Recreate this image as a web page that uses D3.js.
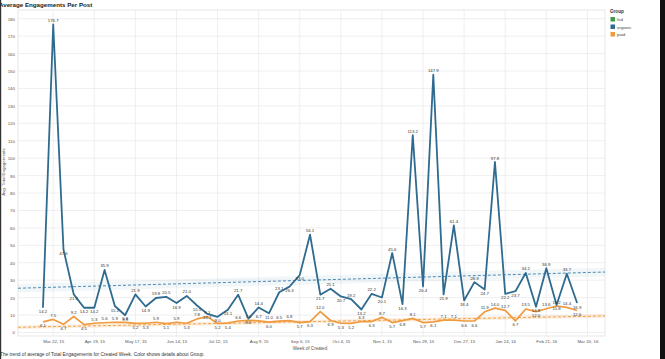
<!DOCTYPE html>
<html>
<head>
<meta charset="utf-8">
<script src="https://cdn.jsdelivr.net/npm/d3@7"></script>
<style>
  body { margin: 0; background: #fff; }
  svg { display: block; font-family: "Liberation Sans", Arial, sans-serif; }
</style>
</head>
<body>
<div id="chart"></div>
<script>
// Canvas size
var svgWidth = 665;
var svgHeight = 359;

// plot box
var margin = { top: 10, right: 60, bottom: 23, left: 18 };
var width = svgWidth - margin.left - margin.right;
var height = svgHeight - margin.top - margin.bottom;

// Week of Created (weekly, starting Sundays)
var weeks = [
  "2015-03-15", "2015-03-22", "2015-03-29", "2015-04-05", "2015-04-12", "2015-04-19", "2015-04-26",
  "2015-05-03", "2015-05-10", "2015-05-17", "2015-05-24", "2015-05-31", "2015-06-07", "2015-06-14",
  "2015-06-21", "2015-06-28", "2015-07-05", "2015-07-12", "2015-07-19", "2015-07-26", "2015-08-02",
  "2015-08-09", "2015-08-16", "2015-08-23", "2015-08-30", "2015-09-06", "2015-09-13", "2015-09-20",
  "2015-09-27", "2015-10-04", "2015-10-11", "2015-10-18", "2015-10-25", "2015-11-01", "2015-11-08",
  "2015-11-15", "2015-11-22", "2015-11-29", "2015-12-06", "2015-12-13", "2015-12-20", "2015-12-27",
  "2016-01-03", "2016-01-10", "2016-01-17", "2016-01-24", "2016-01-31", "2016-02-07", "2016-02-14",
  "2016-02-21", "2016-02-28", "2016-03-06", "2016-03-13"
];

// Avg. Total Engagements, group organic
var organic = [
  14.2, 176.7, 47.6, 21.9, 14.2, 14.2, 35.9, 15.2, 9.9, 21.9, 14.9, 19.8, 20.5, 16.9,
  21.0, 15.5, 10.7, 9.0, 13.1, 21.7, 8.0, 14.4, 11.0, 23.1, 26.3, 33.0, 56.1, 21.7,
  25.1, 20.7, 19.2, 13.2, 22.2, 20.1, 45.6, 16.3, 113.2, 26.4, 147.9, 21.9, 61.4, 18.4,
  28.9, 24.7, 97.8, 22.2, 23.7, 34.2, 14.8, 36.9, 15.8, 33.7, 16.9
];

// Avg. Total Engagements, group paid
var paid = [
  6.1, 7.5, 4.7, 9.2, 4.5, 5.3, 5.6, 5.9, 5.8, 5.2, 5.3, 5.9, 5.1, 5.9,
  5.3, 7.8, 9.1, 5.2, 5.4, 6.6, 7.0, 6.7, 6.0, 6.5, 6.8, 5.7, 6.3, 12.0,
  6.9, 5.3, 5.2, 6.3, 6.3, 8.7, 5.7, 6.8, 8.1, 5.7, 6.1, 7.1, 7.1, 6.6,
  6.6, 11.9, 14.0, 12.7, 6.7, 13.5, 12.0, 13.6, 15.2, 14.4, 12.6
];

// trend line values at the left and right edge of the axis
var trendDates = ["2015-02-26", "2016-04-01"];
var organicTrend = [25.4, 34.7];
var paidTrend = [3.0, 9.5];

// x tick labels (every 4 weeks)
var tickDates = [
  "2015-03-22", "2015-04-19", "2015-05-17", "2015-06-14", "2015-07-12", "2015-08-09", "2015-09-06",
  "2015-10-04", "2015-11-01", "2015-11-29", "2015-12-27", "2016-01-24", "2016-02-21", "2016-03-20"
];
var tickLabels = [
  "Mar 22, 15", "Apr 19, 15", "May 17, 15", "Jun 14, 15", "Jul 12, 15", "Aug 9, 15", "Sep 6, 15",
  "Oct 4, 15", "Nov 1, 15", "Nov 29, 15", "Dec 27, 15", "Jan 24, 16", "Feb 21, 16", "Mar 20, 16"
];

var yTicks = d3.range(0, 181, 10);

var groups = ["fsd", "organic", "paid"];
var groupColors = ["#3f9a48", "#2f6a8f", "#f09a3e"];

var parse = d3.timeParse("%Y-%m-%d");
var weekDates = weeks.map(parse);

var svg = d3.select("#chart").append("svg")
  .attr("width", svgWidth)
  .attr("height", svgHeight);

// page edges
svg.append("rect").attr("x", 0).attr("y", 0).attr("width", 1.2).attr("height", svgHeight).attr("fill", "#333");
svg.append("rect").attr("x", 660).attr("y", 0).attr("width", 5).attr("height", svgHeight).attr("fill", "#111");

// title
svg.append("text")
  .attr("x", -1).attr("y", 7)
  .style("font-size", "6.2px").style("font-weight", "bold").attr("fill", "#222")
  .text("Average Engagements Per Post");

var chartGroup = svg.append("g")
  .attr("transform", `translate(${margin.left}, ${margin.top})`);

// scales
var xScale = d3.scaleTime()
  .domain(trendDates.map(parse))
  .range([0, width]);

var yScale = d3.scaleLinear()
  .domain([-2, 185])
  .range([height, 0]);

// gridlines
chartGroup.append("g")
  .selectAll("line")
  .data(yTicks)
  .enter()
  .append("line")
  .attr("x1", 0).attr("x2", width)
  .attr("y1", d => yScale(d)).attr("y2", d => yScale(d))
  .attr("stroke", "#ebebeb").attr("stroke-width", 0.8);

chartGroup.append("g")
  .selectAll("line")
  .data(tickDates.map(parse))
  .enter()
  .append("line")
  .attr("x1", d => xScale(d)).attr("x2", d => xScale(d))
  .attr("y1", 0).attr("y2", height)
  .attr("stroke", "#ebebeb").attr("stroke-width", 0.8);

// plot frame
chartGroup.append("rect")
  .attr("width", width).attr("height", height)
  .attr("fill", "none").attr("stroke", "#e0e0e0").attr("stroke-width", 0.8);

// axes
var leftAxis = d3.axisLeft(yScale).tickValues(yTicks).tickSize(0).tickPadding(3);
var yAxisG = chartGroup.append("g").call(leftAxis);
yAxisG.select(".domain").remove();
yAxisG.selectAll("text").style("font-size", "4.4px").attr("fill", "#555");

var bottomAxis = d3.axisBottom(xScale)
  .tickValues(tickDates.map(parse))
  .tickFormat((d, i) => tickLabels[i])
  .tickSize(0).tickPadding(4);
var xAxisG = chartGroup.append("g")
  .attr("transform", `translate(0, ${height})`)
  .call(bottomAxis);
xAxisG.select(".domain").remove();
xAxisG.selectAll("text").style("font-size", "4.4px").attr("fill", "#555");

// axis titles
chartGroup.append("text")
  .attr("transform", "rotate(-90)")
  .attr("x", 0 - 162).attr("y", -13)
  .style("text-anchor", "middle").style("font-size", "4.4px").attr("fill", "#555")
  .text("Avg. Total Engagements");

chartGroup.append("text")
  .attr("x", 292).attr("y", height + 14)
  .style("text-anchor", "middle").style("font-size", "4.6px").attr("fill", "#555")
  .text("Week of Created");

// trend bands and lines
function trendLayer(vals, color, band, bandOpacity) {
  var pts = trendDates.map((d, i) => ({ date: parse(d), v: vals[i] }));
  chartGroup.append("path")
    .datum(pts)
    .attr("fill", color).attr("opacity", bandOpacity)
    .attr("d", d3.area()
      .x(d => xScale(d.date))
      .y0(d => yScale(d.v - band))
      .y1(d => yScale(d.v + band)));
  chartGroup.append("path")
    .datum(pts)
    .attr("fill", "none").attr("stroke", color).attr("stroke-width", 0.9)
    .attr("stroke-dasharray", "3,2")
    .attr("d", d3.line().x(d => xScale(d.date)).y(d => yScale(d.v)));
}
trendLayer(organicTrend, "#3c7eab", 2.5, 0.07);
trendLayer(paidTrend, groupColors[2], 1.0, 0.18);

// series lines
var line = d3.line()
  .x((d, i) => xScale(weekDates[i]))
  .y(d => yScale(d));

chartGroup.append("path")
  .datum(paid)
  .attr("fill", "none").attr("stroke", groupColors[2]).attr("stroke-width", 1.7)
  .attr("stroke-linejoin", "round")
  .attr("d", line);

chartGroup.append("path")
  .datum(organic)
  .attr("fill", "none").attr("stroke", groupColors[1]).attr("stroke-width", 1.8)
  .attr("stroke-linejoin", "round")
  .attr("d", line);

// data labels: above peaks, below dips
function addLabels(vals) {
  chartGroup.append("g")
    .selectAll("text")
    .data(vals)
    .enter()
    .append("text")
    .attr("x", (d, i) => xScale(weekDates[i]))
    .attr("y", function (d, i) {
      var prev = i > 0 ? vals[i - 1] : d;
      var next = i < vals.length - 1 ? vals[i + 1] : d;
      var up = d >= (prev + next) / 2;
      return up ? yScale(d) - 2.5 : yScale(d) + 5.5;
    })
    .style("text-anchor", "middle").style("font-size", "4.3px").attr("fill", "#333")
    .text(d => d.toFixed(1));
}
addLabels(paid);
addLabels(organic);

// legend
var legend = svg.append("g").attr("transform", "translate(610, 0)");
legend.append("text")
  .attr("x", 0).attr("y", 13)
  .style("font-size", "4.6px").style("font-weight", "bold").attr("fill", "#333")
  .text("Group");
groups.forEach(function (g, i) {
  legend.append("rect")
    .attr("x", 0.5).attr("y", 17 + i * 7.5)
    .attr("width", 4.5).attr("height", 4.5)
    .attr("fill", groupColors[i]);
  legend.append("text")
    .attr("x", 7).attr("y", 21 + i * 7.5)
    .style("font-size", "4.4px").attr("fill", "#444")
    .text(g);
});

// caption
svg.append("text")
  .attr("x", 0).attr("y", 356)
  .style("font-size", "4.8px").attr("fill", "#333")
  .text("The trend of average of Total Engagements for Created Week.  Color shows details about Group.");
</script>
</body>
</html>
